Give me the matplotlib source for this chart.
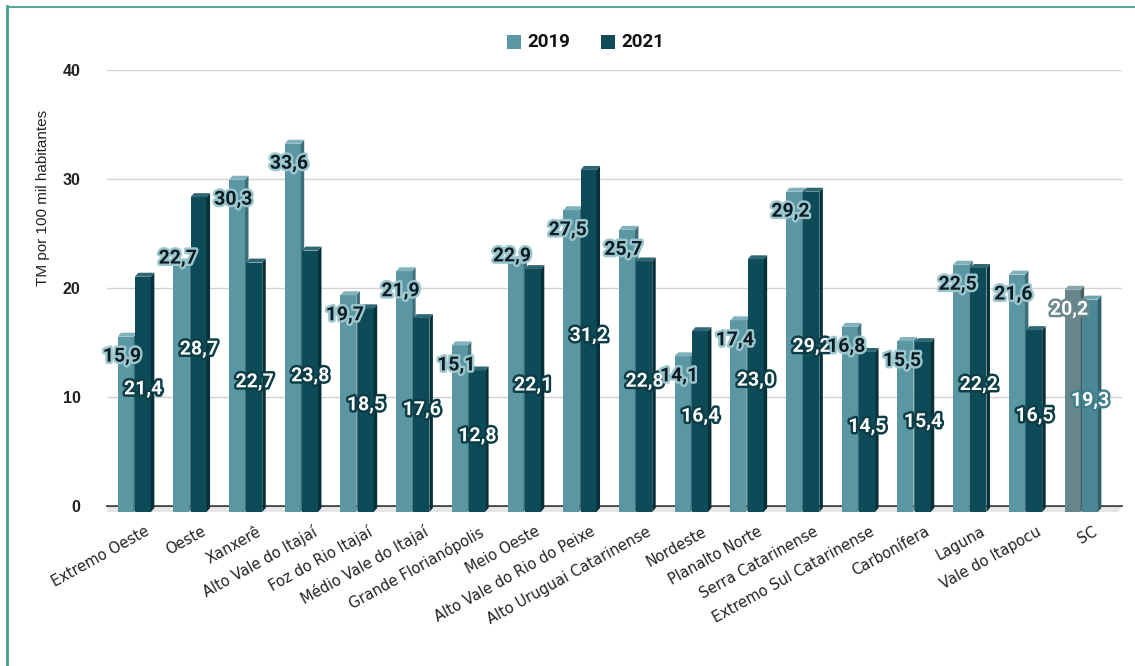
import matplotlib
matplotlib.use("Agg")
import matplotlib.pyplot as plt
from matplotlib.patches import Polygon
from matplotlib.lines import Line2D
import matplotlib.patheffects as pe
import numpy as np

regions = ["Extremo Oeste", "Oeste", "Xanxerê", "Alto Vale do Itajaí", "Foz do Rio Itajaí",
           "Médio Vale do Itajaí", "Grande Florianópolis", "Meio Oeste", "Alto Vale do Rio do Peixe",
           "Alto Uruguai Catarinense", "Nordeste", "Planalto Norte", "Serra Catarinense",
           "Extremo Sul Catarinense", "Carbonífera", "Laguna", "Vale do Itapocu", "SC"]
tm_2019 = [15.9, 22.7, 30.3, 33.6, 19.7, 21.9, 15.1, 22.9, 27.5, 25.7, 14.1, 17.4, 29.2, 16.8, 15.5, 22.5, 21.6, 20.2]
tm_2021 = [21.4, 28.7, 22.7, 23.8, 18.5, 17.6, 12.8, 22.1, 31.2, 22.8, 16.4, 23.0, 29.2, 14.5, 15.4, 22.2, 16.5, 19.3]
years = ["2019", "2021"]
y_ticks = [0, 10, 20, 30, 40]

# face colours: front, side, top
c19 = ("#5b97a3", "#3d6f7a", "#7fb2bc")
c21 = ("#0e4b58", "#06303a", "#2f6773")
c19_sc = ("#66868c", "#4a6266", "#8aa4a9")
c21_sc = ("#4b8794", "#30616b", "#6fa3ae")

W, H = 1135, 666
fig = plt.figure(figsize=(W / 100, H / 100), dpi=100)
ax = fig.add_axes([107 / W, 160 / H, (1122 - 107) / W, (506 - 70) / H])
ax.set_xlim(-0.52, 17.7)
ax.set_ylim(0, 40)

px_x = (1122 - 107) / (17.7 + 0.52)   # pixels per category unit
px_y = (506 - 70) / 40.0              # pixels per value unit
dx = 3.5 / px_x
dy = 4.0 / px_y
floor = 6.0 / px_y
bw = 16 / px_x

x = np.arange(len(regions))
ax.set_yticks(y_ticks)
ax.grid(axis="y", color="#d2d2d2", linewidth=1.0, zorder=0)
for s in ax.spines.values():
    s.set_visible(False)

# floor band and base line
ax.add_patch(Polygon([(-0.52, 0), (17.7, 0), (17.7 - dx, -floor), (-0.52, -floor)],
                     closed=True, facecolor="#e6e6e6", edgecolor="none", clip_on=False, zorder=0.5))
ax.plot([-0.52, 17.7], [0, 0], color="#222222", linewidth=1.2, clip_on=False, zorder=0.6)


def bar3d(left, val, cols, z):
    front = val - dy
    ax.bar(left, front + floor, bottom=-floor, width=bw, align="edge", color=cols[0],
           edgecolor="none", clip_on=False, zorder=z)
    r = left + bw
    ax.add_patch(Polygon([(r, -floor), (r + dx, -floor + dy), (r + dx, val), (r, front)],
                         closed=True, facecolor=cols[1], edgecolor="none", clip_on=False, zorder=z))
    ax.add_patch(Polygon([(left, front), (left + dx, val), (r + dx, val), (r, front)],
                         closed=True, facecolor=cols[2], edgecolor="none", clip_on=False, zorder=z))


for i in x:
    last = regions[i] == "SC"
    bar3d(i - 0.33, tm_2019[i], c19_sc if last else c19, 2 + i * 0.01)
    bar3d(i - 0.02, tm_2021[i], c21_sc if last else c21, 3 + i * 0.01)

# value labels
label_font = dict(family="Roboto", weight="bold", fontsize=14, ha="center", va="center",
                  zorder=10, clip_on=False)
top_labels = {"Oeste", "Meio Oeste"}
for i in x:
    last = regions[i] == "SC"
    v = tm_2019[i]
    yl = v if regions[i] in top_labels else v - 2.2
    if last:
        col, halo = "white", "#6a878d"
    else:
        col, halo = "#0a1c21", "#9cc6ce"
    ax.text(i - 0.25, yl, f"{v:.1f}".replace(".", ","), color=col,
            path_effects=[pe.withStroke(linewidth=3.5, foreground=halo)], **label_font)
    v = tm_2021[i]
    halo = "#3f7f8c" if last else "#0b3d47"
    ax.text(i + 0.13, v / 2, f"{v:.1f}".replace(".", ","), color="white",
            path_effects=[pe.withStroke(linewidth=3.5, foreground=halo)], **label_font)

# y axis text
ax.tick_params(axis="y", length=0, pad=19)
for t in ax.get_yticklabels():
    t.set_fontfamily("Liberation Sans")
    t.set_fontweight("bold")
    t.set_fontsize(11.5)
    t.set_color("#222222")
ax.set_ylabel("TM por 100 mil habitantes", fontfamily="Liberation Sans", fontsize=11,
              color="#222222")
ax.yaxis.set_label_coords(-0.056, 0.706)

# category labels, rotated and ending just right of each group
ax.set_xticks(x)
ax.set_xticklabels([])
ax.tick_params(axis="x", length=0)
for i, name in enumerate(regions):
    ax.annotate(name, xy=(i, 0), xycoords="data", xytext=(6.5, -13), textcoords="offset points",
                rotation=29, rotation_mode="anchor", ha="right", va="top",
                fontfamily="DejaVu Sans", fontsize=10.5, color="#222222", annotation_clip=False)

# legend
for lx, year, col in [(507, years[0], c19[0]), (601, years[1], c21[0])]:
    fig.patches.append(plt.Rectangle((lx / W, (H - 49) / H), 14 / W, 14 / H, transform=fig.transFigure,
                                     facecolor=col, edgecolor="none"))
    fig.text((lx + 20) / W, (H - 42) / H, year, fontfamily="Roboto", fontweight="bold",
             fontsize=13.5, va="center", ha="left", color="#111111")

# frame accents
fig.add_artist(Line2D([7 / W, 7 / W], [0, 1 - 6 / H], transform=fig.transFigure,
                      color="#3f9c8c", linewidth=2))
fig.add_artist(Line2D([7 / W, 1], [1 - 7 / H, 1 - 7 / H], transform=fig.transFigure,
                      color="#5aa898", linewidth=1.5))

fig.savefig("out.png", dpi=100)
